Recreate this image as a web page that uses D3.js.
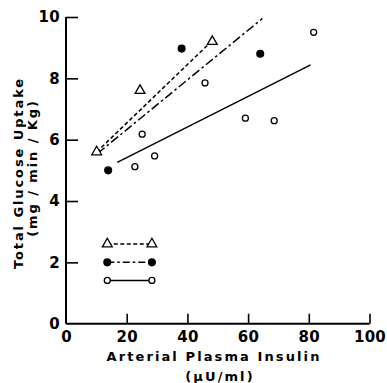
<!DOCTYPE html>
<html>
<head>
<meta charset="utf-8">
<script src="https://cdn.jsdelivr.net/npm/d3@7"></script>
<style>
  body { margin: 0; background: #fff; }
  text { font-family: "DejaVu Sans", sans-serif; font-weight: bold; fill: #000; }
</style>
</head>
<body>
<svg id="chart" width="387" height="383"></svg>
<script>
// group 1: open triangles, short-dash line
const triX = [10.1, 24.4, 48.2]
const triY = [5.6, 7.6, 9.2]
const triLine = [[10.1, 5.6], [48.1, 9.22]]
// group 2: filled circles, dash-dot line
const dotX = [13.9, 38.1, 64.0]
const dotY = [5.0, 8.97, 8.8]
const dotLine = [[10.4, 5.55], [64.7, 9.95]]
// group 3: open circles, solid line
const openX = [22.7, 25.1, 29.2, 45.8, 59.1, 68.6, 81.6]
const openY = [5.12, 6.18, 5.47, 7.85, 6.7, 6.62, 9.5]
const openLine = [[16.9, 5.26], [80.6, 8.44]]
// legend rows
const legendX = [13.6, 28.3]
const legendY = [2.6, 2.0, 1.41]

const xTicks = [0, 20, 40, 60, 80, 100]
const yTicks = [0, 2, 4, 6, 8, 10]

const svg = d3.select("#chart")
const x = d3.scaleLinear().domain([0, 100]).range([66, 369.5])
const y = d3.scaleLinear().domain([0, 10]).range([323.7, 17])

const g = svg.append("g")

// axes, ticks inward
const xAxis = d3.axisBottom(x).tickValues(xTicks).tickSize(-10).tickPadding(5).tickFormat(d3.format("d"))
const yAxis = d3.axisLeft(y).tickValues(yTicks).tickSize(-12).tickPadding(6).tickFormat(d3.format("d"))

const xa = g.append("g").attr("transform", "translate(0," + y(0) + ")").call(xAxis)
const ya = g.append("g").attr("transform", "translate(" + x(0) + ",0)").call(yAxis)
;[xa, ya].forEach(function(a) {
  a.select(".domain").attr("stroke", "#000").attr("stroke-width", 2)
  a.selectAll(".tick line").attr("stroke", "#000").attr("stroke-width", 1.6)
  a.selectAll(".tick text").attr("font-size", 15).attr("letter-spacing", 0.3)
    .attr("font-family", "DejaVu Sans").attr("font-weight", "bold").attr("fill", "#000")
})
// y-axis domain should just be a line (no outer tick)
ya.select(".domain").attr("d", "M0," + y(10) + "V" + y(0))
xa.select(".domain").attr("d", "M" + x(0) + ",0H" + x(100))
xa.selectAll(".tick").filter(function(d) { return d === 0 }).select("line").remove()
ya.selectAll(".tick").filter(function(d) { return d === 0 }).select("line").remove()
xa.selectAll(".tick text").attr("dy", "0.9em")

const line = d3.line().x(function(d) { return x(d[0]) }).y(function(d) { return y(d[1]) })
const styles = [
  { data: triLine, dash: "4,2.5" },
  { data: dotLine, dash: "9,3,2.5,3" },
  { data: openLine, dash: null }
]
styles.forEach(function(s) {
  g.append("path").datum(s.data).attr("d", line)
    .attr("fill", "none").attr("stroke", "#000").attr("stroke-width", 1.5)
    .attr("stroke-dasharray", s.dash)
})

const tri = d3.symbol().type(d3.symbolTriangle).size(42)
function drawTriangles(xs, ys) {
  g.selectAll(null).data(xs).enter().append("path")
    .attr("d", tri)
    .attr("transform", function(d, i) { return "translate(" + x(d) + "," + y(ys[i]) + ")" })
    .attr("fill", "#fff").attr("stroke", "#000").attr("stroke-width", 1.3)
}
function drawCircles(xs, ys, filled) {
  g.selectAll(null).data(xs).enter().append("circle")
    .attr("cx", function(d) { return x(d) })
    .attr("cy", function(d, i) { return y(ys[i]) })
    .attr("r", filled ? 3.4 : 3)
    .attr("fill", filled ? "#000" : "#fff").attr("stroke", "#000").attr("stroke-width", 1.3)
}

drawTriangles(triX, triY)
drawCircles(dotX, dotY, true)
drawCircles(openX, openY, false)

// legend
styles.forEach(function(s, i) {
  g.append("path").datum([[legendX[0], legendY[i]], [legendX[1], legendY[i]]]).attr("d", line)
    .attr("fill", "none").attr("stroke", "#000").attr("stroke-width", 1.5)
    .attr("stroke-dasharray", i === 1 ? "7,3,2.5,3" : s.dash)
})
drawTriangles(legendX, [legendY[0], legendY[0]])
drawCircles(legendX, [legendY[1], legendY[1]], true)
drawCircles(legendX, [legendY[2], legendY[2]], false)

// axis titles
svg.append("text").attr("x", 214).attr("y", 361).attr("text-anchor", "middle")
  .attr("font-size", 13).attr("letter-spacing", 2.1).text("Arterial Plasma Insulin")
svg.append("text").attr("x", 220).attr("y", 381).attr("text-anchor", "middle")
  .attr("font-size", 13).attr("letter-spacing", 2.1).text("(\u00b5U/ml)")
svg.append("text").attr("transform", "translate(23,173) rotate(-90)").attr("text-anchor", "middle")
  .attr("font-size", 13).attr("letter-spacing", 1.9).text("Total Glucose Uptake")
svg.append("text").attr("transform", "translate(37,168) rotate(-90)").attr("text-anchor", "middle")
  .attr("font-size", 13).attr("letter-spacing", 1.9).text("(mg / min / Kg)")
</script>
</body>
</html>
